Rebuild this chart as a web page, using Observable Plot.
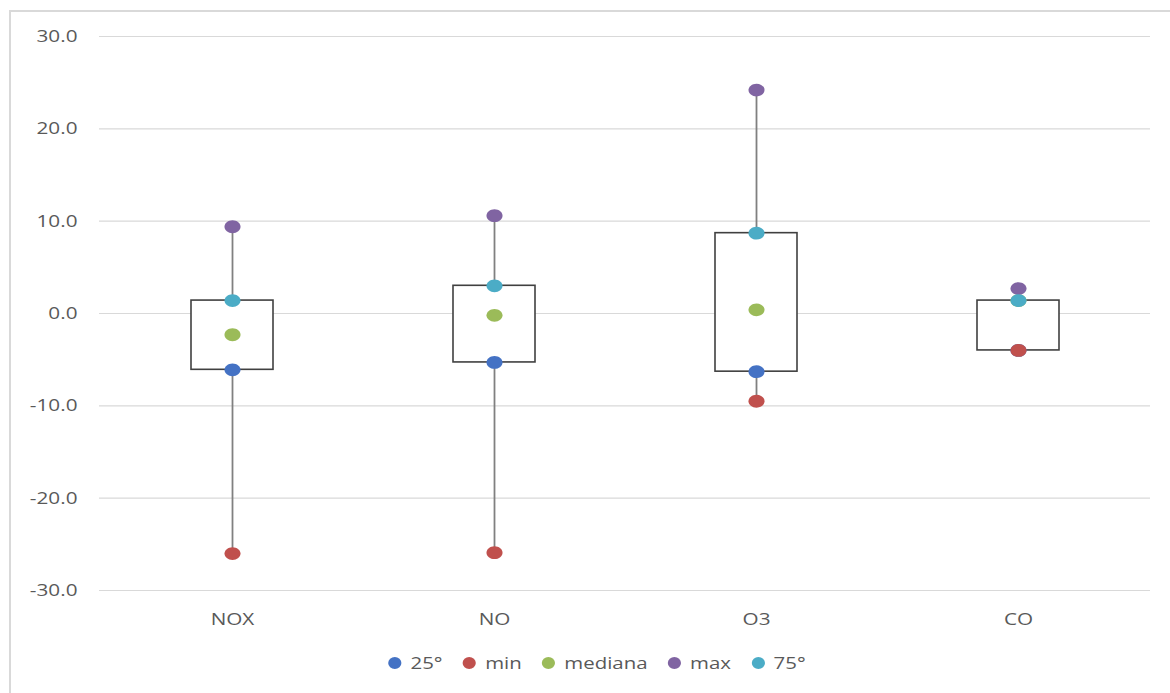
<!DOCTYPE html>
<html>
<head>
<meta charset="utf-8">
<script src="https://cdn.jsdelivr.net/npm/d3@7"></script>
<script src="https://cdn.jsdelivr.net/npm/@observablehq/plot@0.6"></script>
<style>
  html, body { margin: 0; padding: 0; background: #fff; }
  #wrap { position: relative; width: 1170px; height: 693px; overflow: hidden; font-family: "Open Sans", sans-serif; }
  #frame { position: absolute; left: 9px; top: 10px; width: 1170px; height: 700px; border: 2px solid #d9d9d9; box-sizing: border-box; }
  #chart { position: absolute; left: 0; top: 0; }
  #legend { position: absolute; top: 651px; left: 12px; width: 1170px; display: flex; justify-content: center; font-size: 17px; color: #595959; transform: scaleX(1.2); transform-origin: center center; }
  .item { display: flex; align-items: center; margin: 0 8.5px; }
  .sw { width: 11px; height: 12px; border-radius: 50%; display: inline-block; margin-right: 7.5px; }
</style>
</head>
<body>
<div id="wrap">
  <div id="frame"></div>
  <div id="chart"></div>
  <div id="legend"></div>
</div>
<script>
const categories = ["NOX", "NO", "O3", "CO"];
const p25 = [-6.1, -5.3, -6.3, -4.0];
const minv = [-26.0, -25.9, -9.5, -4.0];
const mediana = [-2.3, -0.2, 0.4, 1.4];
const maxv = [9.4, 10.6, 24.2, 2.7];
const p75 = [1.4, 3.0, 8.7, 1.4];
const yTicks = [-30, -20, -10, 0, 10, 20, 30];
const seriesNames = ["25°", "min", "mediana", "max", "75°"];
const seriesColors = ["#4472C4", "#C0504D", "#9BBB59", "#8064A2", "#4BACC6"];

const rows = categories.map((c, i) => ({cat: c, p25: p25[i], min: minv[i], med: mediana[i], max: maxv[i], p75: p75[i]}));
const seriesArrays = [p25, minv, mediana, maxv, p75];
const dots = [];
seriesNames.forEach((s, k) => categories.forEach((c, i) => dots.push({cat: c, series: s, value: seriesArrays[k][i]})));

// slightly wide ellipse marker, like the reference
const ellipse = {
  draw(ctx, size) {
    const r = Math.sqrt(size / Math.PI);
    const rx = r * 1.1, ry = r * 0.88, k = 0.5523;
    ctx.moveTo(rx, 0);
    ctx.bezierCurveTo(rx, ry * k, rx * k, ry, 0, ry);
    ctx.bezierCurveTo(-rx * k, ry, -rx, ry * k, -rx, 0);
    ctx.bezierCurveTo(-rx, -ry * k, -rx * k, -ry, 0, -ry);
    ctx.bezierCurveTo(rx * k, -ry, rx, -ry * k, rx, 0);
    ctx.closePath();
  }
};

const chart = Plot.plot({
  width: 1170,
  height: 640,
  marginLeft: 99,
  marginRight: 20,
  marginTop: 36,
  marginBottom: 50,
  style: {fontFamily: "'Open Sans', sans-serif", fontSize: "17px", color: "#595959", background: "transparent"},
  x: {domain: categories, padding: 0, label: null, tickSize: 0, tickPadding: 22},
  y: {domain: [-30, 30], ticks: yTicks, tickFormat: d => d.toFixed(1), label: null, tickSize: 0, tickPadding: 22},
  color: {domain: seriesNames, range: seriesColors},
  marks: [
    Plot.ruleY(yTicks, {stroke: "#d9d9d9", strokeWidth: 1.2}),
    Plot.ruleX(rows, {x: "cat", y1: "min", y2: "p25", stroke: "#808080", strokeWidth: 1.8}),
    Plot.ruleX(rows, {x: "cat", y1: "p75", y2: "max", stroke: "#808080", strokeWidth: 1.8}),
    Plot.barY(rows, {x: "cat", y1: "p25", y2: "p75", fill: "white", stroke: "#404040", strokeWidth: 1.6, insetLeft: 90, insetRight: 90}),
    Plot.dot(dots, {x: "cat", y: "value", fill: "series", r: 7.3, symbol: ellipse, stroke: "none"})
  ]
});
document.getElementById("chart").appendChild(chart);

// widen the tick label glyphs horizontally around their anchor, as in the reference
chart.querySelectorAll('g[aria-label="y-axis tick label"] text, g[aria-label="x-axis tick label"] text').forEach(t => {
  const tr = t.getAttribute("transform") || "";
  t.setAttribute("transform", (tr + " scale(1.22,1)").trim());
});

const legend = document.getElementById("legend");
seriesNames.forEach((s, k) => {
  const it = document.createElement("div");
  it.className = "item";
  const sw = document.createElement("span");
  sw.className = "sw";
  sw.style.background = seriesColors[k];
  const t = document.createElement("span");
  t.textContent = s;
  it.appendChild(sw);
  it.appendChild(t);
  legend.appendChild(it);
});
</script>
</body>
</html>
